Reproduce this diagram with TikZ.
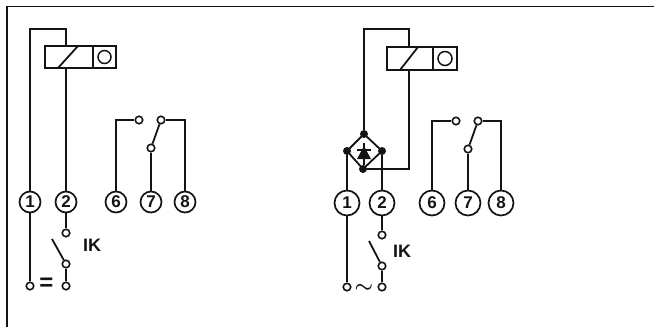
\documentclass[tikz,border=0pt]{standalone}
\usepackage{fontspec}
\setmainfont{Liberation Sans}
\usepackage{tikz}
\usetikzlibrary{calc}
\definecolor{inkDark}{HTML}{141414}
\tikzset{
    wire/.style={
        ,   draw=inkDark
        ,   line width=1.8pt
    },
    terminal/.style={
        ,   circle
        ,   draw=inkDark
        ,   fill=white
        ,   line width=1.7pt
        ,   inner sep=0pt
        ,   minimum size=#1
        ,   text = inkDark
        ,   font={\fontsize{17pt}{17}\bfseries}
    },
    contact/.style={
        ,   circle
        ,   draw=inkDark
        ,   fill=white
        ,   line width=1.6pt
        ,   inner sep=0pt
        ,   minimum size=7.5pt
    },
    bridgeDot/.style={
        ,   circle
        ,   fill=inkDark
        ,   inner sep=0pt
        ,   minimum size=8pt
    },
    relayBox/.style={
        ,   rectangle
        ,   draw=inkDark
        ,   line width=1.9pt
        ,   inner sep=0pt
    },
    label/.style={
        ,   inner sep=0pt
        ,   text = inkDark
        ,   font={\fontsize{18pt}{18}\bfseries}
    }
}
\begin{document}
\begin{tikzpicture}[x=1pt,y=-1pt]
    \useasboundingbox (0,0) rectangle (654,327);
    \coordinate (frameA) at (7,327);
    \coordinate (frameB) at (7,6.5);
    \coordinate (frameC) at (654,6.5);
    \draw[line width=1.5pt,draw=inkDark] (frameA) -- (frameB) -- (frameC);

    % left: direct current
    \foreach \n/\x in {1/30,2/66,6/116,7/151,8/185}{
        \node[terminal=21pt] (a\n) at (\x,202) {\n};
    }
    \node[relayBox,minimum width=48pt,minimum height=22pt] (coilA) at (69,57) {};
    \node[relayBox,minimum width=23pt,minimum height=22pt] (lampA) at (104.5,57) {};
    \node[circle,draw=inkDark,line width=1.5pt,minimum size=13pt,inner sep=0pt] (glassA) at (lampA.center) {};
    \coordinate (topA) at (66,29);
    \coordinate (slashA1) at (58,68);
    \coordinate (slashA2) at (78,46);
    \draw[wire] (slashA1) -- (slashA2);
    \draw[wire] (a1) |- (topA) -- (topA |- coilA.north);
    \draw[wire] (a2) -- (a2 |- coilA.south);

    \node[contact] (a6c) at (139,120) {};
    \node[contact] (a7c) at (151,148) {};
    \node[contact] (a8c) at (161,120) {};
    \draw[wire] (a6) |- (a6c);
    \draw[wire] (a7) -- (a7c);
    \draw[wire] (a7c) -- (a8c);
    \draw[wire] (a8) |- (a8c);

    \node[contact] (swA1) at (66,233) {};
    \node[contact] (swA2) at (66,264) {};
    \node[contact] (inA1) at (30,286) {};
    \node[contact] (inA2) at (66,286) {};
    \coordinate (bladeA) at (52,239);
    \draw[wire] (a2) -- (swA1);
    \draw[wire] (bladeA) -- (swA2);
    \draw[wire] (swA2) -- (inA2);
    \draw[wire] (a1) -- (inA1);
    \node[label,font={\fontsize{24pt}{24}\bfseries}] (eqA) at (46.5,284) {=};
    \node[label] (ikA) at (92,245) {IK};

    % right: alternating current
    \foreach \n/\x in {1/347,2/382,6/432,7/468,8/501}{
        \node[terminal=25pt] (b\n) at (\x,203) {\n};
    }
    \node[relayBox,minimum width=46pt,minimum height=23pt] (coilB) at (410,58.5) {};
    \node[relayBox,minimum width=24pt,minimum height=23pt] (lampB) at (445,58.5) {};
    \node[circle,draw=inkDark,line width=1.5pt,minimum size=14pt,inner sep=0pt] (glassB) at (lampB.center) {};
    \coordinate (topB) at (409,29);
    \coordinate (slashB1) at (400,70);
    \coordinate (slashB2) at (418,47);
    \draw[wire] (slashB1) -- (slashB2);

    \node[bridgeDot] (brT) at (364,134) {};
    \node[bridgeDot] (brL) at (347,151) {};
    \node[bridgeDot] (brR) at (382,151) {};
    \node[bridgeDot] (brB) at (363,169) {};
    \draw[wire] (brT.center) -- (brR.center) -- (brB.center) -- (brL.center) -- cycle;
    \coordinate (diodeTip) at (364,146);
    \coordinate (diodeBaseL) at (357,159);
    \coordinate (diodeBaseR) at (371,159);
    \coordinate (diodeBarL) at (357,150);
    \coordinate (diodeBarR) at (371,150);
    \coordinate (diodeUp) at (364,143);
    \coordinate (diodeDown) at (364,165);
    \fill[inkDark] (diodeTip) -- (diodeBaseL) -- (diodeBaseR) -- cycle;
    \draw[wire] (diodeBarL) -- (diodeBarR);
    \draw[wire] (diodeUp) -- (diodeDown);

    \draw[wire] (brT) |- (topB) -- (topB |- coilB.north);
    \draw[wire] (brB) -| (topB |- coilB.south);
    \draw[wire] (brL) -- (b1);
    \draw[wire] (brR) -- (b2);

    \node[contact] (b6c) at (456,121) {};
    \node[contact] (b7c) at (468,149) {};
    \node[contact] (b8c) at (478,121) {};
    \draw[wire] (b6) |- (b6c);
    \draw[wire] (b7) -- (b7c);
    \draw[wire] (b7c) -- (b8c);
    \draw[wire] (b8) |- (b8c);

    \node[contact] (swB1) at (382,235) {};
    \node[contact] (swB2) at (382,266) {};
    \node[contact] (inB1) at (347,287) {};
    \node[contact] (inB2) at (382,287) {};
    \coordinate (bladeB) at (369,241);
    \draw[wire] (b2) -- (swB1);
    \draw[wire] (bladeB) -- (swB2);
    \draw[wire] (swB2) -- (inB2);
    \draw[wire] (b1) -- (inB1);
    \node[label,font={\fontsize{21pt}{21}\boldmath}] (tildeB) at (364,288) {$\sim$};
    \node[label] (ikB) at (402,251) {IK};
\end{tikzpicture}
\end{document}
